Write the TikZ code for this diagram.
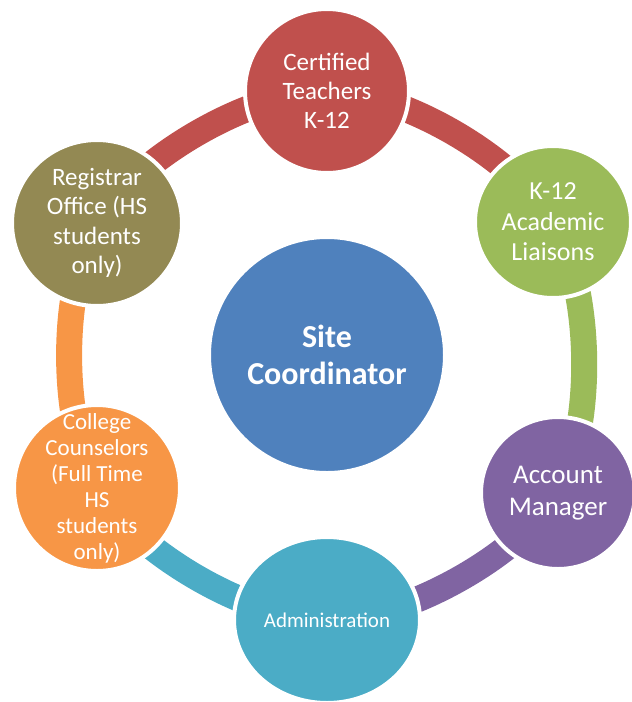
\documentclass[tikz,border=0pt]{standalone}
\usepackage{fontspec}
\setmainfont{Carlito}
\usetikzlibrary{shapes.geometric,backgrounds}
\definecolor{cred}{HTML}{C0504D}
\definecolor{cgreen}{HTML}{9BBB59}
\definecolor{cpurple}{HTML}{8064A2}
\definecolor{caqua}{HTML}{4BACC6}
\definecolor{corange}{HTML}{F79646}
\definecolor{colive}{HTML}{938953}
\definecolor{cblue}{HTML}{4F81BD}
\tikzset{
  bubble/.style={ellipse, draw=white, line width=4pt, inner sep=0pt},
  ring/.style={line width=26pt, line cap=butt},
  bendy/.style={bend left=30, looseness=0.72},
  lab/.style n args={2}{text=white, align=center, inner sep=0pt, font=\fontsize{#1}{#2}\selectfont}
}
\begin{document}
\begin{tikzpicture}[x=1pt,y=-1pt]
\useasboundingbox (0,0) rectangle (632,702);
\node[bubble, fill=cblue, minimum width=236pt, minimum height=236pt,
  label={[lab={32}{37}]center:{\bfseries Site\\\bfseries Coordinator}}] (site) at (327,355) {};
\node[bubble, fill=cred, minimum width=164pt, minimum height=164pt,
  label={[lab={25}{29}]center:{Certified\\Teachers\\K-12}}] (teach) at (327,91) {};
\node[bubble, fill=cgreen, minimum width=156pt, minimum height=152pt,
  label={[lab={26}{30.5}]center:{K-12\\Academic\\Liaisons}}] (liai) at (553,222) {};
\node[bubble, fill=cpurple, minimum width=154pt, minimum height=152pt,
  label={[lab={27}{32}]center:{Account\\Manager}}] (acct) at (558,493) {};
\node[bubble, fill=caqua, minimum width=186pt, minimum height=166pt,
  label={[lab={21}{25}]center:{Administration}}] (admin) at (327,620) {};
\node[bubble, fill=corange, minimum width=166pt, minimum height=166pt,
  label={[lab={23}{26}]center:{College\\Counselors\\(Full Time\\HS\\students\\only)}}] (coll) at (97,488) {};
\node[bubble, fill=colive, minimum width=170pt, minimum height=166pt,
  label={[lab={25}{29.3}]center:{Registrar\\Office (HS\\students\\only)}}] (reg) at (97,223) {};
\begin{scope}[on background layer]
\draw[ring, cred] (teach.center) to[bendy] (liai.center);
\draw[ring, cgreen] (liai.center) to[bendy] (acct.center);
\draw[ring, cpurple] (acct.center) to[bendy] (admin.center);
\draw[ring, caqua] (admin.center) to[bendy] (coll.center);
\draw[ring, corange] (coll.center) to[bendy] (reg.center);
\draw[ring, cred] (reg.center) to[bendy] (teach.center);
\end{scope}
\end{tikzpicture}
\end{document}
